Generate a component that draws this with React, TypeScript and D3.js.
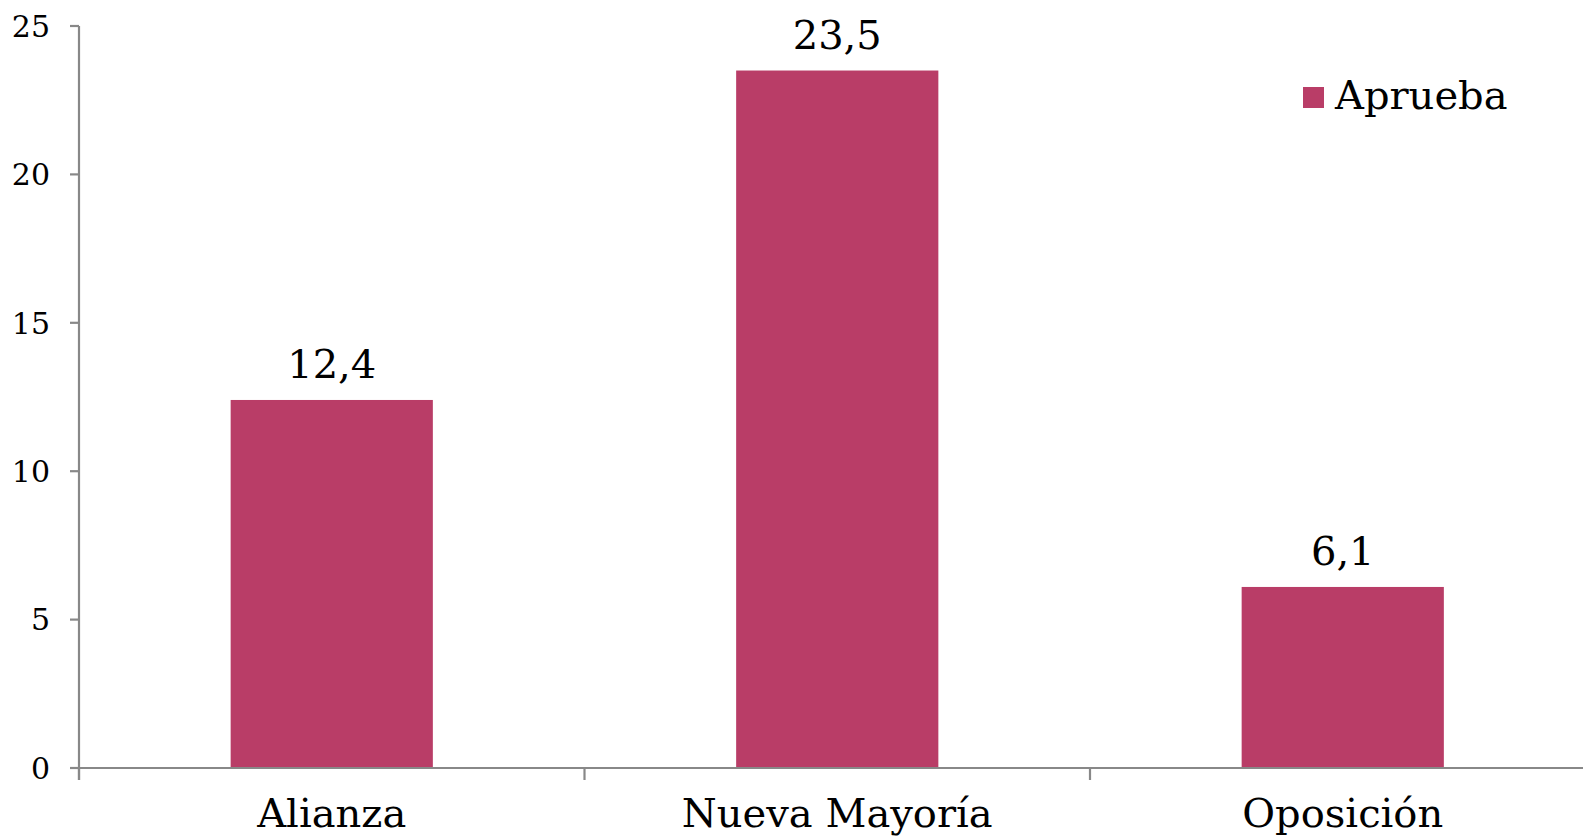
import React, { useEffect } from "react"
import * as d3 from "d3"

const categories = ["Alianza", "Nueva Mayoría", "Oposición"]
const aprueba = [12.4, 23.5, 6.1]
const valueLabels = ["12,4", "23,5", "6,1"]
const yTicks = [0, 5, 10, 15, 20, 25]
const seriesName = "Aprueba"

const width = 1583
const height = 839
const barColor = "#B93D67"
const axisColor = "#888888"
const font = "'DejaVu Serif', 'Liberation Serif', serif"

function App() {
  useEffect(() => {
    document.body.style.margin = "0"
  }, [])

  const margin = { top: 26, left: 79, bottom: 71 }
  const bandWidth = 505.5

  const x = d3
    .scaleBand()
    .domain(categories)
    .range([margin.left, margin.left + bandWidth * categories.length])
    .paddingInner(0.6)
    .paddingOuter(0.3)

  const y = d3
    .scaleLinear()
    .domain([0, 25])
    .range([height - margin.bottom, margin.top])

  const y0 = y(0)
  const xEnd = margin.left + bandWidth * categories.length
  const boundaries = d3.range(categories.length + 1).map(i => margin.left + i * bandWidth)

  return (
    <svg width={width} height={height} style={{ display: "block", background: "#fff" }}>
      {/* bars */}
      {categories.map((c, i) => (
        <rect
          key={c}
          x={x(c)}
          y={y(aprueba[i])}
          width={x.bandwidth()}
          height={y0 - y(aprueba[i])}
          fill={barColor}
        />
      ))}

      {/* y axis */}
      <line x1={margin.left} x2={margin.left} y1={margin.top} y2={y0 + 12} stroke={axisColor} strokeWidth={2.2} />
      {yTicks.map(t => (
        <g key={t}>
          <line x1={margin.left - 9} x2={margin.left} y1={y(t)} y2={y(t)} stroke={axisColor} strokeWidth={2.2} />
          <text
            x={50}
            y={y(t)}
            dy="0.36em"
            textAnchor="end"
            fontFamily={font}
            fontSize={30}
            fill="#000"
          >
            {t}
          </text>
        </g>
      ))}

      {/* x axis */}
      <line x1={margin.left - 9} x2={xEnd} y1={y0} y2={y0} stroke={axisColor} strokeWidth={2.2} />
      {boundaries.map((b, i) => (
        <line key={i} x1={b} x2={b} y1={y0} y2={y0 + 12} stroke={axisColor} strokeWidth={2.2} />
      ))}
      {categories.map(c => (
        <text
          key={c}
          x={(x(c) as number) + x.bandwidth() / 2}
          y={y0 + 59}
          textAnchor="middle"
          fontFamily={font}
          fontSize={40}
          fill="#000"
        >
          {c}
        </text>
      ))}

      {/* value labels */}
      {categories.map((c, i) => (
        <text
          key={c}
          x={(x(c) as number) + x.bandwidth() / 2}
          y={y(aprueba[i]) - 22}
          textAnchor="middle"
          fontFamily={font}
          fontSize={40}
          fill="#000"
        >
          {valueLabels[i]}
        </text>
      ))}

      {/* legend */}
      <rect x={1303} y={87} width={21} height={21} fill={barColor} />
      <text x={1335} y={109} fontFamily={font} fontSize={40} fill="#000">
        {seriesName}
      </text>
    </svg>
  )
}

export default App
